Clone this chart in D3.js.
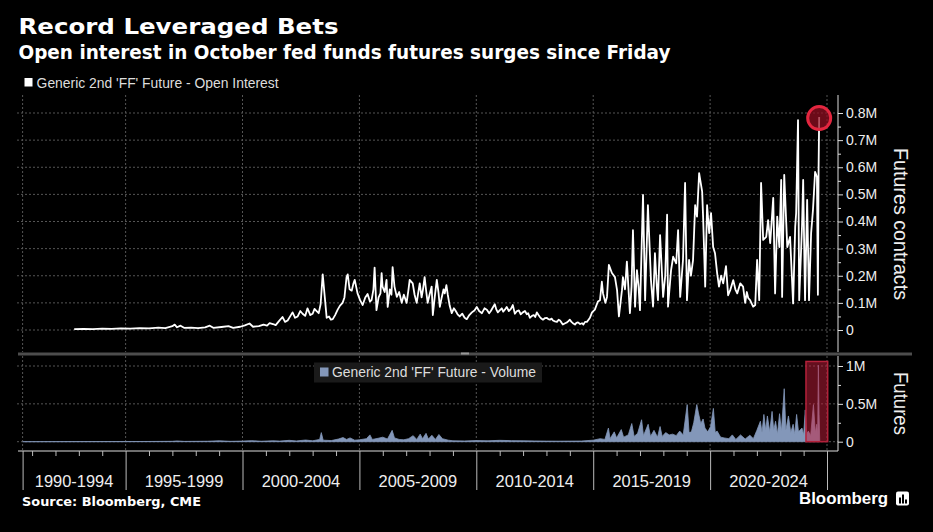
<!DOCTYPE html>
<html><head><meta charset="utf-8">
<script src="https://cdn.jsdelivr.net/npm/d3@7"></script>
<style>html,body{margin:0;padding:0;background:#000;}svg{display:block;}</style>
</head><body>
<svg id="chart" width="933" height="532"></svg>
<script>
// ---------------- DATA ----------------
const title = "Record Leveraged Bets";
const subtitle = "Open interest in October fed funds futures surges since Friday";
const oiLegend = "Generic 2nd 'FF' Future - Open Interest";
const volLegend = "Generic 2nd 'FF' Future - Volume";
const oiAxisTitle = "Futures contracts";
const volAxisTitle = "Futures";
const source = "Source: Bloomberg, CME";

const periodLabels = ["1990-1994","1995-1999","2000-2004","2005-2009","2010-2014","2015-2019","2020-2024"];
const periodStarts = [1990,1995,2000,2005,2010,2015,2020];
const periodBoundaries = [1995,2000,2005,2010,2015,2020,2025];
const oiTicks = [0,100,200,300,400,500,600,700,800];      // thousands of contracts
const volTicks = [0,500,1000];                              // thousands of contracts

// [decimal year, open interest in thousands]
const openInterest = [
[1992.80,3],[1993.20,4],[1993.60,3],[1994.00,5],[1994.40,4],[1994.80,6],[1995.20,5],[1995.60,7],[1996.00,6],[1996.40,9],
[1996.70,7],[1997.00,14],[1997.10,20],[1997.20,10],[1997.35,16],[1997.50,8],[1997.80,9],[1998.10,7],[1998.40,10],[1998.60,16],
[1998.75,8],[1999.10,11],[1999.40,14],[1999.60,8],[1999.90,12],[2000.10,17],[2000.30,24],[2000.45,12],[2000.70,14],[2000.90,20],
[2001.05,16],[2001.16,25],[2001.30,22],[2001.42,18],[2001.55,32],[2001.71,48],[2001.82,30],[2001.93,35],[2002.05,52],[2002.14,65],
[2002.25,45],[2002.36,50],[2002.47,70],[2002.57,60],[2002.68,52],[2002.78,80],[2002.90,55],[2003.00,60],[2003.08,78],[2003.17,70],
[2003.26,62],[2003.34,95],[2003.43,205],[2003.52,120],[2003.60,45],[2003.70,50],[2003.78,38],[2003.86,40],[2003.96,55],[2004.07,75],
[2004.17,90],[2004.28,100],[2004.36,120],[2004.45,195],[2004.50,205],[2004.58,150],[2004.67,145],[2004.74,170],[2004.80,185],[2004.92,135],
[2005.03,110],[2005.14,92],[2005.25,120],[2005.35,133],[2005.45,105],[2005.52,110],[2005.60,150],[2005.65,230],[2005.73,73],[2005.82,120],
[2005.90,135],[2005.95,210],[2005.99,160],[2006.08,140],[2006.16,185],[2006.21,85],[2006.30,150],[2006.37,130],[2006.42,232],[2006.50,160],
[2006.60,122],[2006.70,140],[2006.81,100],[2006.90,130],[2007.02,100],[2007.10,150],[2007.15,185],[2007.28,172],[2007.36,130],[2007.45,100],
[2007.52,140],[2007.58,172],[2007.66,120],[2007.72,150],[2007.79,195],[2007.86,140],[2007.92,100],[2008.00,130],[2008.09,160],[2008.14,55],
[2008.22,120],[2008.31,185],[2008.38,140],[2008.44,85],[2008.52,120],[2008.60,150],[2008.65,135],[2008.72,165],[2008.78,130],[2008.86,90],
[2008.95,62],[2009.04,80],[2009.12,70],[2009.20,58],[2009.29,50],[2009.40,60],[2009.50,45],[2009.59,40],[2009.70,55],[2009.81,65],
[2009.92,72],[2010.02,85],[2010.12,70],[2010.24,62],[2010.35,80],[2010.45,75],[2010.55,62],[2010.62,70],[2010.70,82],[2010.79,95],
[2010.86,75],[2010.92,65],[2011.00,72],[2011.09,80],[2011.15,68],[2011.22,75],[2011.30,85],[2011.39,70],[2011.48,78],[2011.56,92],
[2011.65,60],[2011.74,70],[2011.82,72],[2011.90,58],[2011.99,65],[2012.08,70],[2012.16,58],[2012.22,62],[2012.29,45],[2012.38,52],
[2012.46,55],[2012.52,48],[2012.59,65],[2012.66,55],[2012.72,48],[2012.78,42],[2012.85,38],[2012.94,44],[2013.02,45],[2013.08,40],
[2013.15,38],[2013.22,42],[2013.28,35],[2013.36,32],[2013.45,30],[2013.52,38],[2013.58,35],[2013.64,28],[2013.70,20],[2013.80,25],
[2013.88,28],[2013.94,33],[2014.00,38],[2014.07,30],[2014.13,25],[2014.22,20],[2014.28,26],[2014.35,28],[2014.44,22],[2014.52,25],
[2014.58,20],[2014.65,30],[2014.73,30],[2014.80,38],[2014.86,45],[2014.95,65],[2015.07,75],[2015.20,105],
[2015.29,110],[2015.37,178],[2015.42,135],[2015.52,100],[2015.59,122],[2015.67,240],[2015.80,210],[2015.93,195],[2016.02,147],[2016.10,50],[2016.23,147],
[2016.27,195],[2016.36,150],[2016.44,252],[2016.57,62],[2016.64,160],[2016.70,368],[2016.79,86],[2016.87,221],[2016.94,160],[2017.00,73],[2017.13,498],[2017.22,110],[2017.34,460],
[2017.47,184],[2017.56,86],[2017.64,283],[2017.72,160],[2017.77,110],[2017.86,350],[2017.99,122],[2018.08,200],[2018.16,425],[2018.20,86],[2018.33,221],[2018.42,270],
[2018.55,246],[2018.63,368],[2018.72,122],[2018.84,258],[2018.93,542],[2019.01,110],[2019.10,258],[2019.18,200],[2019.27,258],[2019.36,460],[2019.44,418],
[2019.53,578],[2019.66,510],[2019.70,418],[2019.79,160],[2019.87,460],[2019.96,357],[2020.04,431],[2020.13,306],[2020.21,283],[2020.30,210],
[2020.38,160],[2020.47,200],[2020.56,172],[2020.68,235],[2020.77,128],[2020.86,147],[2020.99,184],[2021.08,150],[2021.16,135],[2021.29,172],[2021.41,160],[2021.50,100],
[2021.57,140],[2021.63,118],[2021.71,110],[2021.84,86],[2021.93,92],[2022.01,258],[2022.10,110],[2022.18,542],[2022.27,332],[2022.40,343],[2022.48,405],
[2022.57,320],[2022.70,487],[2022.78,135],[2022.87,418],[2022.96,306],[2023.04,553],[2023.08,122],[2023.17,572],[2023.30,306],[2023.42,343],
[2023.55,98],[2023.64,381],[2023.68,431],[2023.76,774],[2023.81,110],[2023.93,381],[2023.98,553],[2024.06,110],[2024.15,480],[2024.23,110],
[2024.32,357],[2024.40,443],[2024.49,583],[2024.57,565],[2024.61,130],[2024.64,595],[2024.665,785]
];

// [decimal year, volume in thousands]
const volume = [
[1990.60,0],[1992.80,1],[1995.00,2],[1996.00,3],[1997.00,5],[1997.20,10],[1997.50,4],[1998.50,6],[1999.00,12],[1999.50,5],
[2000.00,8],[2000.40,14],[2000.80,6],[2001.30,12],[2001.60,8],[2002.00,18],[2002.30,10],[2002.70,22],[2003.00,12],[2003.30,30],
[2003.37,120],[2003.45,20],[2003.80,15],[2004.10,35],[2004.30,55],[2004.45,30],[2004.60,50],[2004.80,20],[2005.00,25],[2005.30,40],
[2005.45,90],[2005.55,30],[2005.80,45],[2006.00,60],[2006.20,35],[2006.40,150],[2006.50,50],[2006.70,30],[2006.90,25],[2007.10,40],
[2007.30,80],[2007.45,30],[2007.60,100],[2007.70,40],[2007.85,110],[2007.95,35],[2008.10,85],[2008.25,30],[2008.40,95],[2008.55,40],
[2008.80,20],[2009.00,12],[2009.50,10],[2010.00,15],[2010.50,12],[2011.00,18],[2011.50,14],[2012.00,12],[2012.50,10],[2013.00,8],
[2013.50,7],[2014.00,8],[2014.50,9],[2015.00,20],[2015.30,40],[2015.50,30],[2015.65,180],[2015.72,40],[2015.90,130],[2016.00,50],
[2016.20,160],[2016.30,60],[2016.50,90],[2016.65,240],[2016.75,70],[2016.90,110],[2017.07,290],[2017.15,80],[2017.35,230],[2017.45,70],
[2017.60,150],[2017.75,60],[2017.86,200],[2017.95,70],[2018.10,120],[2018.25,90],[2018.40,100],[2018.55,80],[2018.70,140],[2018.85,90],
[2019.02,490],[2019.10,120],[2019.20,130],[2019.30,250],[2019.43,490],[2019.50,380],[2019.60,240],[2019.70,300],[2019.78,180],[2019.90,130],
[2020.02,200],[2020.14,440],[2020.22,120],[2020.30,140],[2020.45,60],[2020.60,50],[2020.80,40],[2020.95,90],[2021.10,30],[2021.30,90],
[2021.50,35],[2021.70,85],[2021.85,40],[2022.00,150],[2022.15,270],[2022.22,120],[2022.30,360],[2022.38,150],[2022.45,340],[2022.55,130],
[2022.65,400],[2022.72,150],[2022.80,270],[2022.88,100],[2022.97,370],[2023.05,140],[2023.17,700],[2023.24,150],[2023.35,340],[2023.45,120],
[2023.55,230],[2023.62,100],[2023.70,360],[2023.78,130],[2023.93,180],[2024.00,90],[2024.07,420],[2024.13,100],[2024.20,140],[2024.30,80],
[2024.42,490],[2024.50,120],[2024.56,230],[2024.60,100],[2024.63,1010],[2024.66,360],[2024.69,0]
];

// highlighted window in the volume panel (years, thousands)
const highlightWindow = [2024.10, 2025.03];
const highlightTop = 1060;

// ---------------- CHART ----------------
const W = 933, H = 532;
const svg = d3.select("#chart");
svg.append("rect").attr("width", W).attr("height", H).attr("fill", "#000");

const plotL = 22.6, plotR = 838;
const x = d3.scaleLinear().domain([1990.594, 2025.47]).range([plotL, plotR]);
const yTop = d3.scaleLinear().domain([0, 800]).range([330, 113]);
const yBot = d3.scaleLinear().domain([0, 1000]).range([441.7, 366]);

const topPanel = [95, 352], botPanel = [356, 451];
const gridColor = "#555", gridDash = "2,2";

function fit(sel, w) { sel.attr("textLength", w).attr("lengthAdjust", "spacingAndGlyphs"); return sel; }

// Titles
fit(svg.append("text").attr("x", 18.5).attr("y", 34.3).attr("fill", "#fff")
  .attr("font-family", "DejaVu Sans").attr("font-weight", "bold").attr("font-size", 22).text(title), 320);
fit(svg.append("text").attr("x", 18.5).attr("y", 59).attr("fill", "#fff")
  .attr("font-family", "DejaVu Sans").attr("font-weight", "bold").attr("font-size", 19).text(subtitle), 652);

// Top legend
svg.append("rect").attr("x", 24.5).attr("y", 78).attr("width", 8).attr("height", 8.5).attr("fill", "#fff");
fit(svg.append("text").attr("x", 36.6).attr("y", 87.5).attr("fill", "#ddd")
  .attr("font-family", "Liberation Sans").attr("font-size", 14).text(oiLegend), 242);

// Grid - top panel
const gTop = svg.append("g");
gTop.selectAll("line.h").data(oiTicks).join("line")
  .attr("x1", 17).attr("x2", plotR).attr("y1", d => yTop(d)).attr("y2", d => yTop(d))
  .attr("stroke", gridColor).attr("stroke-dasharray", gridDash);
const vGrid = [x.domain()[0]].concat(periodBoundaries);
gTop.selectAll("line.v").data(vGrid).join("line")
  .attr("x1", d => x(d)).attr("x2", d => x(d)).attr("y1", topPanel[0]).attr("y2", topPanel[1])
  .attr("stroke", gridColor).attr("stroke-dasharray", gridDash);

// Grid - bottom panel
const gBot = svg.append("g");
gBot.selectAll("line.h").data(volTicks).join("line")
  .attr("x1", 17).attr("x2", plotR).attr("y1", d => yBot(d)).attr("y2", d => yBot(d))
  .attr("stroke", gridColor).attr("stroke-dasharray", gridDash);
gBot.selectAll("line.v").data(vGrid).join("line")
  .attr("x1", d => x(d)).attr("x2", d => x(d)).attr("y1", botPanel[0]).attr("y2", botPanel[1])
  .attr("stroke", gridColor).attr("stroke-dasharray", gridDash);

// Volume area
const area = d3.area().x(d => x(d[0])).y0(yBot(0)).y1(d => yBot(d[1]));
svg.append("path").datum(volume).attr("d", area)
  .attr("fill", "#8397b9").attr("stroke", "#8397b9").attr("stroke-width", 0.8);

// Volume legend box
svg.append("rect").attr("x", 314).attr("y", 362.5).attr("width", 228).attr("height", 20).attr("fill", "#1a1a1a");
svg.append("rect").attr("x", 320).attr("y", 367.5).attr("width", 8.5).attr("height", 9).attr("fill", "#8397b9");
fit(svg.append("text").attr("x", 332).attr("y", 377).attr("fill", "#ddd")
  .attr("font-family", "Liberation Sans").attr("font-size", 14).text(volLegend), 204);

// Highlight window
svg.append("rect").attr("x", x(highlightWindow[0])).attr("y", yBot(highlightTop))
  .attr("width", x(highlightWindow[1]) - x(highlightWindow[0])).attr("height", yBot(0) - yBot(highlightTop))
  .attr("fill", "rgba(200,30,60,0.5)").attr("stroke", "#b3213a").attr("stroke-width", 1.5);

// Open interest line
const line = d3.line().x(d => x(d[0])).y(d => yTop(d[1]));
svg.append("path").datum(openInterest).attr("d", line)
  .attr("fill", "none").attr("stroke", "#fff").attr("stroke-width", 1.8).attr("stroke-linejoin", "round");

// Circle at latest value
const last = openInterest[openInterest.length - 1];
svg.append("circle").attr("cx", x(last[0])).attr("cy", yTop(last[1]) + 1).attr("r", 11.5)
  .attr("fill", "rgba(150,15,35,0.72)").attr("stroke", "#e3263f").attr("stroke-width", 3);

// Separator bar
svg.append("rect").attr("x", 18).attr("y", 352.5).attr("width", 894).attr("height", 3).attr("fill", "#4d4d4d");
svg.append("rect").attr("x", 461).attr("y", 352.5).attr("width", 8).attr("height", 2).attr("fill", "#999");

// Right axes
const fmt = d => d === 0 ? "0" : (d / 1000) + "M";
function styleAxis(g) {
  g.select(".domain").remove();
  g.selectAll(".tick line").attr("stroke", "#ddd");
  g.selectAll(".tick text").attr("fill", "#eee").attr("font-family", "Liberation Sans").attr("font-size", 14);
}
const aTop = svg.append("g").attr("transform", `translate(${plotR},0)`)
  .call(d3.axisRight(yTop).tickValues(oiTicks).tickFormat(fmt).tickSize(5).tickPadding(3));
styleAxis(aTop);
const aTopMinor = svg.append("g").attr("transform", `translate(${plotR},0)`)
  .call(d3.axisRight(yTop).tickValues(d3.range(50, 800, 100)).tickFormat("").tickSize(3));
styleAxis(aTopMinor);
svg.append("line").attr("x1", plotR).attr("x2", plotR).attr("y1", topPanel[0]).attr("y2", topPanel[1]).attr("stroke", "#ddd");

const aBot = svg.append("g").attr("transform", `translate(${plotR},0)`)
  .call(d3.axisRight(yBot).tickValues(volTicks).tickFormat(fmt).tickSize(5).tickPadding(3));
styleAxis(aBot);
const aBotMinor = svg.append("g").attr("transform", `translate(${plotR},0)`)
  .call(d3.axisRight(yBot).tickValues([250, 750]).tickFormat("").tickSize(3));
styleAxis(aBotMinor);
svg.append("line").attr("x1", plotR).attr("x2", plotR).attr("y1", botPanel[0]).attr("y2", botPanel[1]).attr("stroke", "#ddd");

// Axis titles
fit(svg.append("text").attr("transform", "translate(894,224) rotate(90)").attr("text-anchor", "middle")
  .attr("fill", "#eee").attr("font-family", "Liberation Sans").attr("font-size", 19.5).text(oiAxisTitle), 152);
fit(svg.append("text").attr("transform", "translate(894,403.5) rotate(90)").attr("text-anchor", "middle")
  .attr("fill", "#eee").attr("font-family", "Liberation Sans").attr("font-size", 19.5).text(volAxisTitle), 63);

// Bottom x axis
svg.append("line").attr("x1", 18).attr("x2", plotR).attr("y1", botPanel[1]).attr("y2", botPanel[1]).attr("stroke", "#ddd");
const minorYears = d3.range(1991, 2025).filter(y => y % 5 !== 0);
const axMinor = svg.append("g").attr("transform", `translate(0,${botPanel[1]})`)
  .call(d3.axisBottom(x).tickValues(minorYears).tickFormat("").tickSize(5));
axMinor.select(".domain").remove();
axMinor.selectAll(".tick line").attr("stroke", "#bbb");
const axMajor = svg.append("g").attr("transform", `translate(0,${botPanel[1]})`)
  .call(d3.axisBottom(x).tickValues([x.domain()[0]].concat(periodBoundaries)).tickFormat("").tickSize(39));
axMajor.select(".domain").remove();
axMajor.selectAll(".tick line").attr("stroke", "#bbb");

const dom = x.domain();
svg.selectAll("text.period").data(periodLabels).join("text")
  .attr("x", (d, i) => (x(Math.max(periodStarts[i], dom[0])) + x(Math.min(periodStarts[i] + 5, dom[1]))) / 2)
  .attr("y", 486.7).attr("text-anchor", "middle").attr("fill", "#eee")
  .attr("font-family", "Liberation Sans").attr("font-size", 17)
  .attr("textLength", 78.5).attr("lengthAdjust", "spacingAndGlyphs").text(d => d);

// Footer
fit(svg.append("text").attr("x", 22).attr("y", 506).attr("fill", "#fff")
  .attr("font-family", "DejaVu Sans").attr("font-weight", "bold").attr("font-size", 13).text(source), 179);
fit(svg.append("text").attr("x", 799).attr("y", 504).attr("fill", "#fff")
  .attr("font-family", "Liberation Sans").attr("font-weight", "bold").attr("font-size", 17).text("Bloomberg"), 89);
const logo = svg.append("g").attr("transform", "translate(896,491.5)");
logo.append("rect").attr("width", 13).attr("height", 14).attr("rx", 2).attr("fill", "#fff");
logo.append("rect").attr("x", 3).attr("y", 6).attr("width", 2).attr("height", 6).attr("fill", "#000");
logo.append("rect").attr("x", 6).attr("y", 3).attr("width", 2).attr("height", 9).attr("fill", "#000");
logo.append("rect").attr("x", 9).attr("y", 8).attr("width", 2).attr("height", 4).attr("fill", "#000");
</script>
</body></html>
